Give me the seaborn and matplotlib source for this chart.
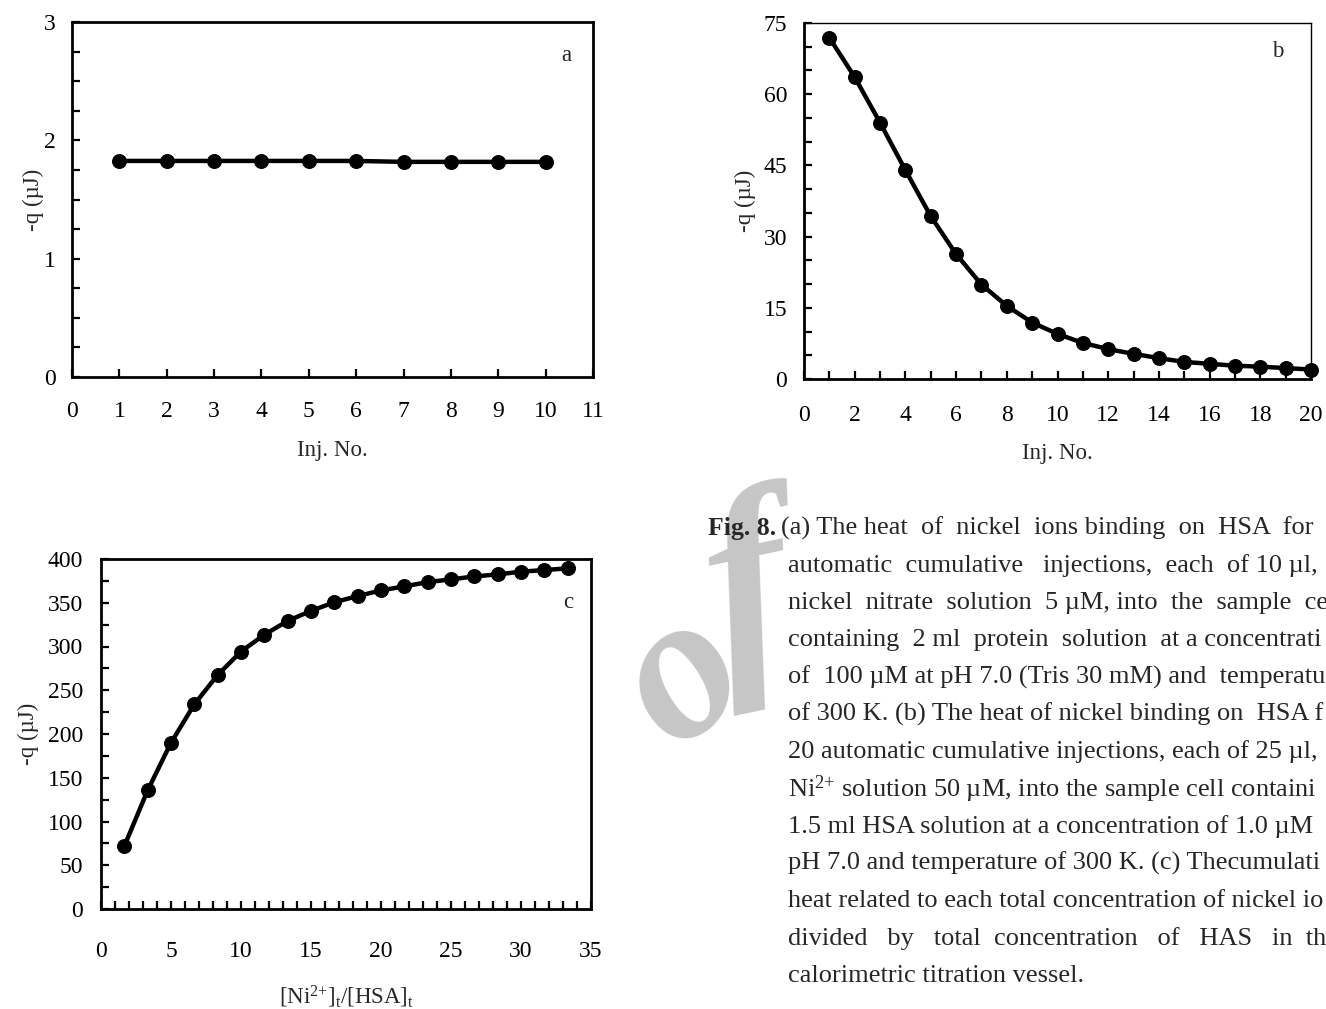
import numpy as np
import pandas as pd
import matplotlib
matplotlib.use("Agg")
import matplotlib.pyplot as plt
from matplotlib.ticker import MultipleLocator
import seaborn as sns

# ---------------- data ----------------
inj_a = [1, 2, 3, 4, 5, 6, 7, 8, 9, 10]
q_a = [1.826, 1.826, 1.826, 1.826, 1.826, 1.826, 1.818, 1.818, 1.818, 1.818]

inj_b = list(range(1, 21))
q_b = [71.9, 63.6, 54.0, 44.0, 34.3, 26.3, 19.9, 15.4, 11.9, 9.5,
       7.6, 6.3, 5.3, 4.4, 3.6, 3.2, 2.8, 2.6, 2.3, 2.0]

ratio_c = [1.67, 3.33, 5.0, 6.67, 8.33, 10.0, 11.67, 13.33, 15.0, 16.67,
           18.33, 20.0, 21.67, 23.33, 25.0, 26.67, 28.33, 30.0, 31.67, 33.33]
q_c = [72.0, 135.5, 190.0, 234.0, 267.4, 294.2, 313.5, 329.2, 340.7, 350.6,
       357.6, 364.1, 368.7, 373.6, 376.7, 380.1, 382.4, 385.5, 387.4, 389.3]

# caption as visible in the (right-cropped) reference
caption_lines = [
    "(a) The heat  of  nickel  ions binding  on  HSA  for",
    "automatic  cumulative   injections,  each  of 10 µl,",
    "nickel  nitrate  solution  5 µM, into  the  sample  ce",
    "containing  2 ml  protein  solution  at a concentrati",
    "of  100 µM at pH 7.0 (Tris 30 mM) and  temperatu",
    "of 300 K. (b) The heat of nickel binding on  HSA f",
    "20 automatic cumulative injections, each of 25 µl,",
    "Ni$^{2{+}}$ solution 50 µM, into the sample cell containi",
    "1.5 ml HSA solution at a concentration of 1.0 µM",
    "pH 7.0 and temperature of 300 K. (c) Thecumulati",
    "heat related to each total concentration of nickel io",
    "divided   by   total  concentration   of   HAS   in  th",
    "calorimetric titration vessel.",
]

# ---------------- style ----------------
sns.set_theme(style="white")
plt.rcParams["font.family"] = ["Liberation Serif", "DejaVu Serif"]
plt.rcParams["mathtext.fontset"] = "custom"
plt.rcParams["mathtext.rm"] = "Liberation Serif"
plt.rcParams["mathtext.it"] = "Liberation Serif:italic"
plt.rcParams["mathtext.bf"] = "Liberation Serif:bold"

W, H = 1326, 1009
fig = plt.figure(figsize=(W / 100, H / 100), dpi=100)
fig.patch.set_facecolor("white")


def px_axes(left, right, top, bottom):
    return fig.add_axes([left / W, (H - bottom) / H, (right - left) / W, (bottom - top) / H])


def style_axes(ax, thin_top_right=False):
    for side in ["left", "bottom", "top", "right"]:
        ax.spines[side].set_visible(True)
        ax.spines[side].set_color("black")
        ax.spines[side].set_linewidth(2.0)
    if thin_top_right:
        ax.spines["top"].set_linewidth(1.0)
        ax.spines["right"].set_linewidth(1.0)
    ax.tick_params(which="both", direction="in", color="black", width=1.6,
                   top=False, right=False, left=True, bottom=True, labelsize=17,
                   labelcolor="black")
    ax.tick_params(which="major", length=6)
    ax.tick_params(which="minor", length=6)
    ax.grid(False)
    ax.set_facecolor("white")


line_kw = dict(color="black", linewidth=3.2, marker="o", markersize=10,
               markeredgecolor="black", markerfacecolor="black",
               estimator=None, sort=False, legend=False)

# ---------------- panel a ----------------
axa = px_axes(72, 593, 22, 377)
sns.lineplot(x=inj_a, y=q_a, ax=axa, **line_kw)
axa.set_xlim(0, 11)
axa.set_ylim(0, 3)
axa.xaxis.set_major_locator(MultipleLocator(1))
axa.yaxis.set_major_locator(MultipleLocator(1))
axa.yaxis.set_minor_locator(MultipleLocator(0.25))
style_axes(axa)
axa.tick_params(axis="x", pad=17)
axa.tick_params(axis="y", pad=11.5)
axa.set_xlabel("Inj. No.", fontsize=16.5, va="center")
axa.xaxis.set_label_coords(0.5, -0.208)
axa.set_ylabel("-q (µJ)", fontsize=16.5, va="center")
axa.yaxis.set_label_coords(-0.075, 0.5)
axa.text(0.948, 0.907, "a", transform=axa.transAxes, fontsize=16.5,
         ha="center", va="center")

# ---------------- panel b ----------------
axb = px_axes(804, 1311, 23, 379)
sns.lineplot(x=inj_b, y=q_b, ax=axb, clip_on=False, **line_kw)
axb.set_xlim(0, 20)
axb.set_ylim(0, 75)
axb.xaxis.set_major_locator(MultipleLocator(2))
axb.xaxis.set_minor_locator(MultipleLocator(1))
axb.yaxis.set_major_locator(MultipleLocator(15))
axb.yaxis.set_minor_locator(MultipleLocator(5))
style_axes(axb, thin_top_right=True)
axb.tick_params(axis="x", pad=18.4)
axb.tick_params(axis="y", pad=12.2)
axb.set_xlabel("Inj. No.", fontsize=16.5, va="center")
axb.xaxis.set_label_coords(0.5, -0.208)
axb.set_ylabel("-q (µJ)", fontsize=16.5, va="center")
axb.yaxis.set_label_coords(-0.116, 0.5)
axb.text(0.935, 0.919, "b", transform=axb.transAxes, fontsize=16.5,
         ha="center", va="center")

# ---------------- panel c ----------------
axc = px_axes(101, 591, 559, 909)
sns.lineplot(x=ratio_c, y=q_c, ax=axc, **line_kw)
axc.set_xlim(0, 35)
axc.set_ylim(0, 400)
axc.xaxis.set_major_locator(MultipleLocator(5))
axc.xaxis.set_minor_locator(MultipleLocator(1))
axc.yaxis.set_major_locator(MultipleLocator(50))
axc.yaxis.set_minor_locator(MultipleLocator(25))
style_axes(axc)
axc.tick_params(axis="x", pad=22.7)
axc.tick_params(axis="y", pad=13)
axc.set_xlabel(r"[Ni$^{2{+}}$]$_{\mathrm{t}}$/[HSA]$_{\mathrm{t}}$", fontsize=16.5, va="center")
axc.xaxis.set_label_coords(0.5, -0.251)
axc.set_ylabel("-q (µJ)", fontsize=16.5, va="center")
axc.yaxis.set_label_coords(-0.149, 0.5)
axc.text(0.953, 0.877, "c", transform=axc.transAxes, fontsize=16.5,
         ha="center", va="center")

# ---------------- watermark (light grey letters behind the caption) ----------------
fig.text(684 / W, 1 - 680 / H, "o", fontsize=150, style="italic", fontweight="bold",
         color="#c6c6c6", rotation=40, ha="center", va="center",
         rotation_mode="anchor", zorder=0)
fig.text(750 / W, 1 - 598 / H, "f", fontsize=175, style="italic", fontweight="bold",
         color="#c6c6c6", rotation=12, ha="center", va="center",
         rotation_mode="anchor", zorder=0)

# ---------------- caption ----------------
line_h = 37.3
y0 = 528
fig.text(708 / W, 1 - y0 / H, "Fig. 8.", fontsize=18.5, fontweight="bold",
         ha="left", va="center", zorder=5)
for i, txt in enumerate(caption_lines):
    x = 781 if i == 0 else 788
    fig.text(x / W, 1 - (y0 + i * line_h) / H, txt, fontsize=19,
             ha="left", va="center", zorder=5)

fig.savefig("out.png", dpi=100, facecolor="white")
